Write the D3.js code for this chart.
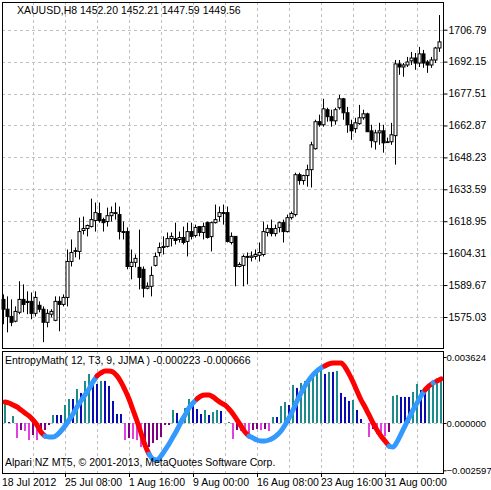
<!DOCTYPE html>
<html><head><meta charset="utf-8">
<script src="https://cdn.jsdelivr.net/npm/d3@7"></script>
<style>body{margin:0;background:#fff}svg{display:block}text{font-family:"Liberation Sans",Arial,sans-serif;font-size:10.5px;fill:#000}</style>
</head><body><svg id="c" width="491" height="490"></svg>
<script>
// ---- DATA ----
const open =[1583.1,1578.6,1575.3,1573.1,1577.2,1583.1,1582.2,1582.2,1576.7,1580.4,1578.6,1572.6,1576.3,1573.5,1582.2,1580.8,1584.0,1600.5,1605.1,1605.1,1614.7,1615.6,1616.5,1619.3,1622.5,1619.7,1618.8,1621.5,1622.5,1622.0,1614.2,1614.2,1598.2,1600.1,1597.8,1596.9,1588.2,1589.1,1598.7,1604.6,1606.9,1607.4,1611.0,1611.0,1610.6,1611.5,1609.7,1614.2,1612.4,1616.5,1613.8,1618.3,1611.9,1618.3,1621.1,1622.9,1622.9,1609.2,1612.0,1598.2,1598.7,1602.8,1602.4,1602.8,1603.3,1603.7,1613.8,1615.6,1613.3,1616.1,1618.3,1614.2,1620.6,1622.0,1640.3,1637.6,1639.9,1642.6,1652.2,1664.6,1663.2,1670.1,1666.9,1665.0,1671.0,1675.1,1668.7,1663.2,1661.4,1663.7,1666.4,1668.2,1660.4,1655.4,1659.5,1660.4,1655.4,1655.4,1658.2,1691.1,1689.7,1690.6,1692.5,1693.8,1691.5,1695.7,1692.0,1690.6,1692.9,1698.4];
const high =[1585.4,1584.5,1583.1,1579.9,1591.4,1590.0,1586.8,1586.3,1586.8,1582.2,1579.9,1578.6,1578.6,1584.5,1584.5,1585.4,1606.0,1610.6,1606.9,1620.6,1621.1,1617.4,1629.3,1627.5,1627.5,1620.6,1625.2,1625.7,1627.5,1625.7,1618.8,1616.1,1606.0,1603.7,1615.1,1598.2,1590.9,1598.2,1604.6,1609.2,1612.0,1613.8,1613.8,1618.3,1614.2,1616.5,1618.3,1618.3,1617.4,1616.5,1618.3,1618.8,1618.8,1626.6,1625.7,1626.6,1625.7,1613.8,1612.0,1600.1,1603.7,1604.6,1605.1,1606.0,1609.2,1618.8,1617.4,1619.7,1617.4,1618.8,1619.7,1622.0,1623.4,1641.2,1641.2,1640.3,1644.9,1655.4,1665.5,1667.8,1675.1,1671.0,1670.1,1671.0,1676.9,1675.5,1671.4,1665.5,1666.4,1672.3,1670.1,1668.7,1663.2,1660.9,1664.1,1663.2,1657.3,1664.1,1692.9,1692.9,1691.5,1694.3,1696.6,1696.1,1698.9,1697.5,1692.9,1694.3,1698.9,1713.5];
const low  =[1571.7,1568.0,1570.8,1572.6,1576.3,1577.2,1576.3,1574.0,1575.3,1577.2,1563.5,1570.3,1574.9,1573.1,1568.5,1579.9,1579.9,1598.2,1602.4,1601.4,1612.9,1612.0,1616.1,1614.2,1618.3,1614.2,1616.5,1618.8,1619.7,1610.6,1610.6,1596.9,1592.3,1597.8,1587.7,1584.0,1587.7,1584.5,1598.2,1602.8,1603.7,1606.9,1607.4,1608.3,1609.2,1608.3,1602.8,1610.6,1611.5,1612.0,1610.6,1611.0,1605.1,1617.9,1618.8,1617.4,1609.2,1608.3,1589.1,1597.8,1589.1,1590.0,1600.5,1601.4,1600.5,1602.8,1612.0,1612.0,1612.0,1613.8,1609.2,1613.8,1619.7,1621.1,1635.7,1635.7,1634.8,1634.4,1651.8,1662.3,1662.3,1664.6,1662.3,1663.2,1670.1,1665.5,1659.5,1656.3,1659.5,1663.2,1665.5,1660.0,1652.7,1651.8,1654.0,1650.4,1655.0,1654.0,1644.9,1686.1,1685.2,1689.7,1690.6,1688.4,1689.7,1689.3,1687.0,1689.3,1691.5,1696.6];
const close=[1578.6,1575.3,1572.6,1577.6,1583.1,1580.8,1581.7,1576.7,1584.0,1578.6,1572.6,1576.7,1577.6,1582.2,1580.8,1584.0,1600.5,1604.6,1605.5,1614.2,1615.6,1617.0,1619.7,1622.9,1619.3,1618.3,1621.5,1622.9,1622.9,1614.2,1613.8,1598.2,1600.1,1601.9,1593.2,1588.2,1589.1,1594.1,1602.8,1606.9,1607.4,1611.0,1612.0,1610.1,1611.5,1609.2,1614.2,1612.0,1616.1,1613.8,1616.5,1611.5,1618.3,1619.7,1622.9,1622.5,1609.7,1612.0,1598.2,1599.1,1602.8,1602.4,1603.0,1603.7,1604.6,1614.2,1615.6,1613.3,1615.6,1618.3,1614.2,1620.6,1622.5,1640.3,1637.6,1639.9,1642.6,1654.0,1664.6,1663.2,1670.5,1666.9,1665.0,1670.1,1675.1,1668.7,1663.2,1660.4,1664.1,1666.4,1668.2,1660.0,1655.9,1659.5,1660.4,1654.9,1655.4,1658.6,1691.1,1689.7,1690.6,1692.0,1693.8,1691.5,1695.7,1691.5,1690.6,1692.9,1698.4,1701.2];
// indicator, in units of 1e-6
const histMicro=[1100,55,385,-825,-385,-440,-935,-660,-935,-550,-385,-110,440,440,440,990,1320,1320,1870,1650,2310,2695,2365,2145,2310,2310,2035,1210,495,495,-935,-825,-880,-935,-1320,-1320,-1320,
-1100,-935,-770,-110,-110,715,550,275,825,1320,990,770,495,715,440,605,715,660,0,55,-880,-385,-440,-550,-660,-385,-330,-385,-330,-440,330,330,935,1155,990,
2090,1925,2200,2310,2420,2530,2750,2970,2695,2805,2805,2860,1650,1430,1210,1265,715,220,0,-770,-330,-605,-660,-715,-495,1485,1540,1430,1430,1430,1705,2145,1815,1650,2145,2255,2310,2365];
const lineMicro=[1155,1100,990,880,715,550,385,165,-110,-495,-715,-770,-770,-660,-440,-165,165,495,880,1210,1540,1870,2255,2585,2750,2860,2860,2805,2585,2255,1815,1320,715,110,-550,-1210,-1705,-1980,-2035,-1815,-1485,-1155,-770,-385,55,440,825,1100,1320,1485,1540,1540,1430,1265,1100,990,770,495,165,-165,-495,-715,-825,-935,-990,-990,-935,-825,-660,-440,-110,275,715,1210,1650,2035,2365,2640,2860,3025,3135,3245,3300,3300,3300,3080,2695,2255,1760,1265,880,440,0,-385,-715,-990,-1265,-1320,-1045,-605,-165,275,715,1100,1485,1815,2035,2200,2310,2420];
const lineRuns=[[0,10,"up"],[10,23,"dn"],[23,36,"up"],[36,48,"dn"],[48,61,"up"],[61,80,"dn"],[80,96,"up"],[96,105,"dn"],[105,107,"up"],[107,108,"dn"],[108,109,"up"]];
const priceTicks=[1575.03,1589.67,1604.31,1618.95,1633.59,1648.23,1662.87,1677.51,1692.15,1706.79];
const subTicks=[0.003624,0.000000,-0.002597];
const dateLabels=["18 Jul 2012","25 Jul 08:00","1 Aug 16:00","9 Aug 00:00","16 Aug 08:00","23 Aug 16:00","31 Aug 00:00"];
const title="XAUUSD,H8  1452.20 1452.21 1447.59 1449.56";
const indTitle="EntropyMath( 12, T3, 9, JJMA ) -0.000223 -0.000666";
const copyright="Alpari NZ MT5, © 2001-2013, MetaQuotes Software Corp.";

// ---- DRAW ----
const svg=d3.select("#c");
const L=2,R=443,mT=2,mB=348,sT=351,sB=473;
const x=d3.scaleLinear().domain([0,110]).range([3,443]);
const y=d3.scaleLinear().domain([1575.03,1706.79]).range([317,29.7]);
const ys=d3.scaleLinear().domain([-0.002597,0.003624]).range([470.3,357]);
const grid="#c0c0c0";
const vg=d3.range(8,110,8);
[[mT,mB],[sT,sB]].forEach(([a,b])=>{
  svg.append("g").selectAll("line").data(vg).join("line")
   .attr("x1",d=>Math.round(x(d))-1.5).attr("x2",d=>Math.round(x(d))-1.5).attr("y1",a).attr("y2",b)
   .attr("stroke",grid).attr("stroke-dasharray","3,3");
});
svg.append("g").selectAll("line").data(priceTicks).join("line")
 .attr("x1",L).attr("x2",R).attr("y1",d=>Math.round(y(d))+0.5).attr("y2",d=>Math.round(y(d))+0.5)
 .attr("stroke",grid).attr("stroke-dasharray","3,3");
svg.append("line").attr("x1",L).attr("x2",R).attr("y1",Math.round(ys(0))+0.5).attr("y2",Math.round(ys(0))+0.5)
 .attr("stroke",grid).attr("stroke-dasharray","3,3");

const cg=svg.append("g");
open.forEach((o,i)=>{
  const c=close[i],cx=Math.round(x(i))+0.5;
  cg.append("line").attr("x1",cx).attr("x2",cx).attr("y1",y(high[i])).attr("y2",y(low[i])).attr("stroke","#000");
  const t=y(Math.max(o,c)),b=y(Math.min(o,c));
  cg.append("rect").attr("x",cx-1.5).attr("y",t).attr("width",3).attr("height",Math.max(b-t,0.8))
   .attr("fill",c>=o?"#fff":"#000").attr("stroke","#000").attr("stroke-width",1);
});

const hv=histMicro.map(v=>v*1e-6);
svg.append("g").selectAll("rect").data(hv).join("rect")
 .attr("x",(d,i)=>Math.round(x(i))+1).attr("width",2)
 .attr("y",d=>Math.min(ys(d),ys(0))).attr("height",d=>Math.abs(ys(d)-ys(0)))
 .attr("fill",(d,i)=>{const p=i?hv[i-1]:0;
   if(d>=0) return d>p?"#1f8c8c":"#0a0ab4";
   return d<p?"#e040e0":"#800080";});

const lv=lineMicro.map(v=>v*1e-6);
const ln=d3.line().x(d=>x(d.i)+2).y(d=>ys(d.v)).curve(d3.curveMonotoneX);
lineRuns.forEach(([a,b,s])=>{
  const pts=d3.range(a,b+1).map(i=>({i,v:lv[i]}));
  svg.append("path").attr("d",ln(pts)).attr("fill","none")
   .attr("stroke",s==="up"?"#ff0000":"#3399ff").attr("stroke-width",5).attr("stroke-linecap","round");
});

svg.append("rect").attr("x",L+0.5).attr("y",mT+0.5).attr("width",R-L).attr("height",mB-mT).attr("fill","none").attr("stroke","#000");
svg.append("rect").attr("x",L+0.5).attr("y",sT+0.5).attr("width",R-L).attr("height",sB-sT).attr("fill","none").attr("stroke","#000");

const pa=svg.append("g").attr("transform",`translate(${R+0.5},0)`)
 .call(d3.axisRight(y).tickValues(priceTicks).tickFormat(d3.format(".2f")).tickSize(4).tickPadding(1));
pa.select(".domain").remove();
pa.selectAll("text").style("font-family","Liberation Sans").style("font-size","10.5px");
const sa=svg.append("g").attr("transform",`translate(${R+0.5},0)`)
 .call(d3.axisRight(ys).tickValues(subTicks).tickFormat(d3.format(".6f")).tickSize(3).tickPadding(0));
sa.select(".domain").remove();
sa.selectAll("text").style("font-family","Liberation Sans").style("font-size","9.5px");

const tb=d3.range(0,110,16);
svg.append("g").selectAll("text").data(dateLabels).join("text")
 .attr("x",(d,i)=>i===0?2:Math.round(x(tb[i]))-2).attr("y",486).text(d=>d);
svg.append("g").selectAll("line").data(tb.slice(1)).join("line")
 .attr("x1",d=>Math.round(x(d))-1.5).attr("x2",d=>Math.round(x(d))-1.5).attr("y1",sB).attr("y2",sB+4).attr("stroke","#000");

svg.append("text").attr("x",17).attr("y",14).text(title);
svg.append("text").attr("x",5).attr("y",364).text(indTitle);
svg.append("text").attr("x",5).attr("y",466).text(copyright);
</script></body></html>
